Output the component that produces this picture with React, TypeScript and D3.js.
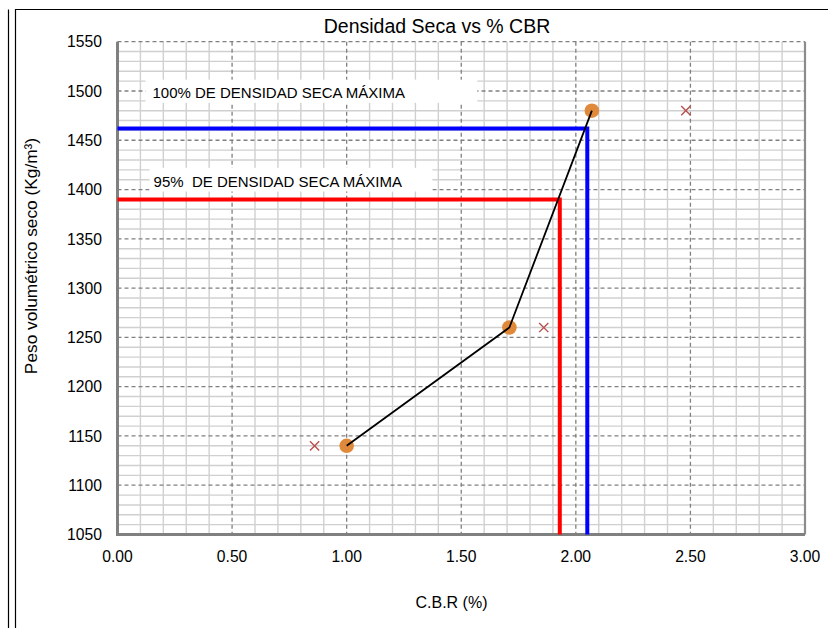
import { useEffect, useRef } from 'react'
import * as d3 from 'd3'

// CBR test points (orange circles, joined by the black line)
const cbrPoints = [1.0, 1.71, 2.07]
const densityPoints = [1140, 1260, 1480]

// secondary points drawn as red crosses
const crossCbr = [0.86, 1.86, 2.48]
const crossDensity = [1140, 1260, 1480]

// reference levels
const levelLabels = ['100% DE DENSIDAD SECA MÁXIMA', '95%  DE DENSIDAD SECA MÁXIMA']
const levelDensity = [1462, 1390]
const levelCbr = [2.05, 1.93]
const levelColors = ['#0000ff', '#ff0000']

const xTicks = [0, 0.5, 1.0, 1.5, 2.0, 2.5, 3.0]
const yTicks = [1050, 1100, 1150, 1200, 1250, 1300, 1350, 1400, 1450, 1500, 1550]

const FONT = "'Liberation Sans', Arial, sans-serif"

const App = () => {
  const svgRef = useRef<SVGSVGElement>(null)

  useEffect(() => {
    if (!svgRef.current) return
    const svg = d3.select(svgRef.current)
    svg.selectAll('*').remove()

    const left = 117.5
    const right = 805
    const top = 41.7
    const bottom = 534.5

    const x = d3.scaleLinear().domain([0, 3]).range([left, right])
    const y = d3.scaleLinear().domain([1050, 1550]).range([bottom, top])

    // outer frame
    svg.append('line')
      .attr('x1', 8.5).attr('x2', 8.5).attr('y1', 9.5).attr('y2', 628)
      .attr('stroke', '#000').attr('stroke-width', 1.2)
    svg.append('path')
      .attr('d', `M15.5,628 V9.5 H828`)
      .attr('fill', 'none')
      .attr('stroke', '#000').attr('stroke-width', 1.2)

    const g = svg.append('g')

    // minor grid
    const minorX = d3.range(0.1, 3, 0.1).filter(v => Math.abs(v * 2 - Math.round(v * 2)) > 0.01)
    const minorY = d3.range(1060, 1550, 10).filter(v => v % 50 !== 0)
    g.selectAll('.minor-x')
      .data(minorX)
      .enter()
      .append('line')
      .attr('x1', d => x(d)).attr('x2', d => x(d))
      .attr('y1', top).attr('y2', bottom)
      .attr('stroke', '#d0d0d0').attr('stroke-width', 1.4)
    g.selectAll('.minor-y')
      .data(minorY)
      .enter()
      .append('line')
      .attr('x1', left).attr('x2', right)
      .attr('y1', d => y(d)).attr('y2', d => y(d))
      .attr('stroke', '#d0d0d0').attr('stroke-width', 1.4)

    // major grid (dashed)
    g.selectAll('.major-x')
      .data(xTicks.slice(1, -1))
      .enter()
      .append('line')
      .attr('x1', d => x(d)).attr('x2', d => x(d))
      .attr('y1', top).attr('y2', bottom)
      .attr('stroke', '#808080').attr('stroke-width', 1.3)
      .attr('stroke-dasharray', '4,3')
    g.selectAll('.major-y')
      .data(yTicks.slice(1))
      .enter()
      .append('line')
      .attr('x1', left).attr('x2', right)
      .attr('y1', d => y(d)).attr('y2', d => y(d))
      .attr('stroke', '#808080').attr('stroke-width', 1.3)
      .attr('stroke-dasharray', '4,3')

    // plot border
    g.append('line')
      .attr('x1', right).attr('x2', right).attr('y1', top).attr('y2', bottom)
      .attr('stroke', '#8c8c8c').attr('stroke-width', 2.2)
    g.append('path')
      .attr('d', `M${left},${top} V${bottom} H${right}`)
      .attr('fill', 'none')
      .attr('stroke', '#808080').attr('stroke-width', 3)

    // label boxes
    const boxes = [
      { x0: 0.122, x1: 1.57, y0: 1511.5, y1: 1488 },
      { x0: 0.14, x1: 1.374, y0: 1422, y1: 1398 }
    ]
    boxes.forEach((b, i) => {
      g.append('rect')
        .attr('x', x(b.x0)).attr('y', y(b.y0))
        .attr('width', x(b.x1) - x(b.x0))
        .attr('height', y(b.y1) - y(b.y0))
        .attr('fill', '#fff')
      g.append('text')
        .attr('x', x(b.x0) + (i === 0 ? 7 : 4))
        .attr('y', y(b.y1) - 4.8)
        .attr('font-family', FONT)
        .attr('font-size', 15)
        .attr('fill', '#000')
        .style('white-space', 'pre')
        .text(levelLabels[i])
    })

    // reference lines
    levelDensity.forEach((dens, i) => {
      g.append('path')
        .attr('d', `M${x(0)},${y(dens)} H${x(levelCbr[i])} V${y(1050)}`)
        .attr('fill', 'none')
        .attr('stroke', levelColors[i])
        .attr('stroke-width', 4)
    })

    // data points + line
    const pts = cbrPoints.map((c, i) => [c, densityPoints[i]] as [number, number])
    g.selectAll('.pt')
      .data(pts)
      .enter()
      .append('circle')
      .attr('cx', d => x(d[0]))
      .attr('cy', d => y(d[1]))
      .attr('r', 7.3)
      .attr('fill', '#e0893b')
    g.append('path')
      .attr('d', d3.line<[number, number]>().x(d => x(d[0])).y(d => y(d[1]))(pts) ?? '')
      .attr('fill', 'none')
      .attr('stroke', '#000')
      .attr('stroke-width', 1.8)

    // crosses
    const s = 4.6
    crossCbr.forEach((c, i) => {
      const cx = x(c)
      const cy = y(crossDensity[i])
      g.append('path')
        .attr('d', `M${cx - s},${cy - s} L${cx + s},${cy + s} M${cx - s},${cy + s} L${cx + s},${cy - s}`)
        .attr('stroke', '#b9504c')
        .attr('stroke-width', 1.4)
    })

    // tick labels
    g.selectAll('.ylab')
      .data(yTicks)
      .enter()
      .append('text')
      .attr('x', 102)
      .attr('y', d => y(d) + 5.7)
      .attr('text-anchor', 'end')
      .attr('font-family', FONT)
      .attr('font-size', 15.7)
      .text(d => String(d))
    g.selectAll('.xlab')
      .data(xTicks)
      .enter()
      .append('text')
      .attr('x', d => x(d))
      .attr('y', 561.5)
      .attr('text-anchor', 'middle')
      .attr('font-family', FONT)
      .attr('font-size', 15.7)
      .text(d => d.toFixed(2))

    // titles
    svg.append('text')
      .attr('x', 437)
      .attr('y', 33)
      .attr('text-anchor', 'middle')
      .attr('font-family', FONT)
      .attr('font-size', 19.5)
      .text('Densidad Seca vs % CBR')

    svg.append('text')
      .attr('x', 451.5)
      .attr('y', 608)
      .attr('text-anchor', 'middle')
      .attr('font-family', FONT)
      .attr('font-size', 16)
      .text('C.B.R (%)')

    svg.append('text')
      .attr('transform', `translate(36.5,256) rotate(-90)`)
      .attr('text-anchor', 'middle')
      .attr('font-family', FONT)
      .attr('font-size', 17.3)
      .text('Peso volumétrico seco (Kg/m³)')
  }, [])

  return (
    <svg
      ref={svgRef}
      width={828}
      height={628}
      style={{ position: 'absolute', left: 0, top: 0, background: '#fff' }}
    />
  )
}

export default App
